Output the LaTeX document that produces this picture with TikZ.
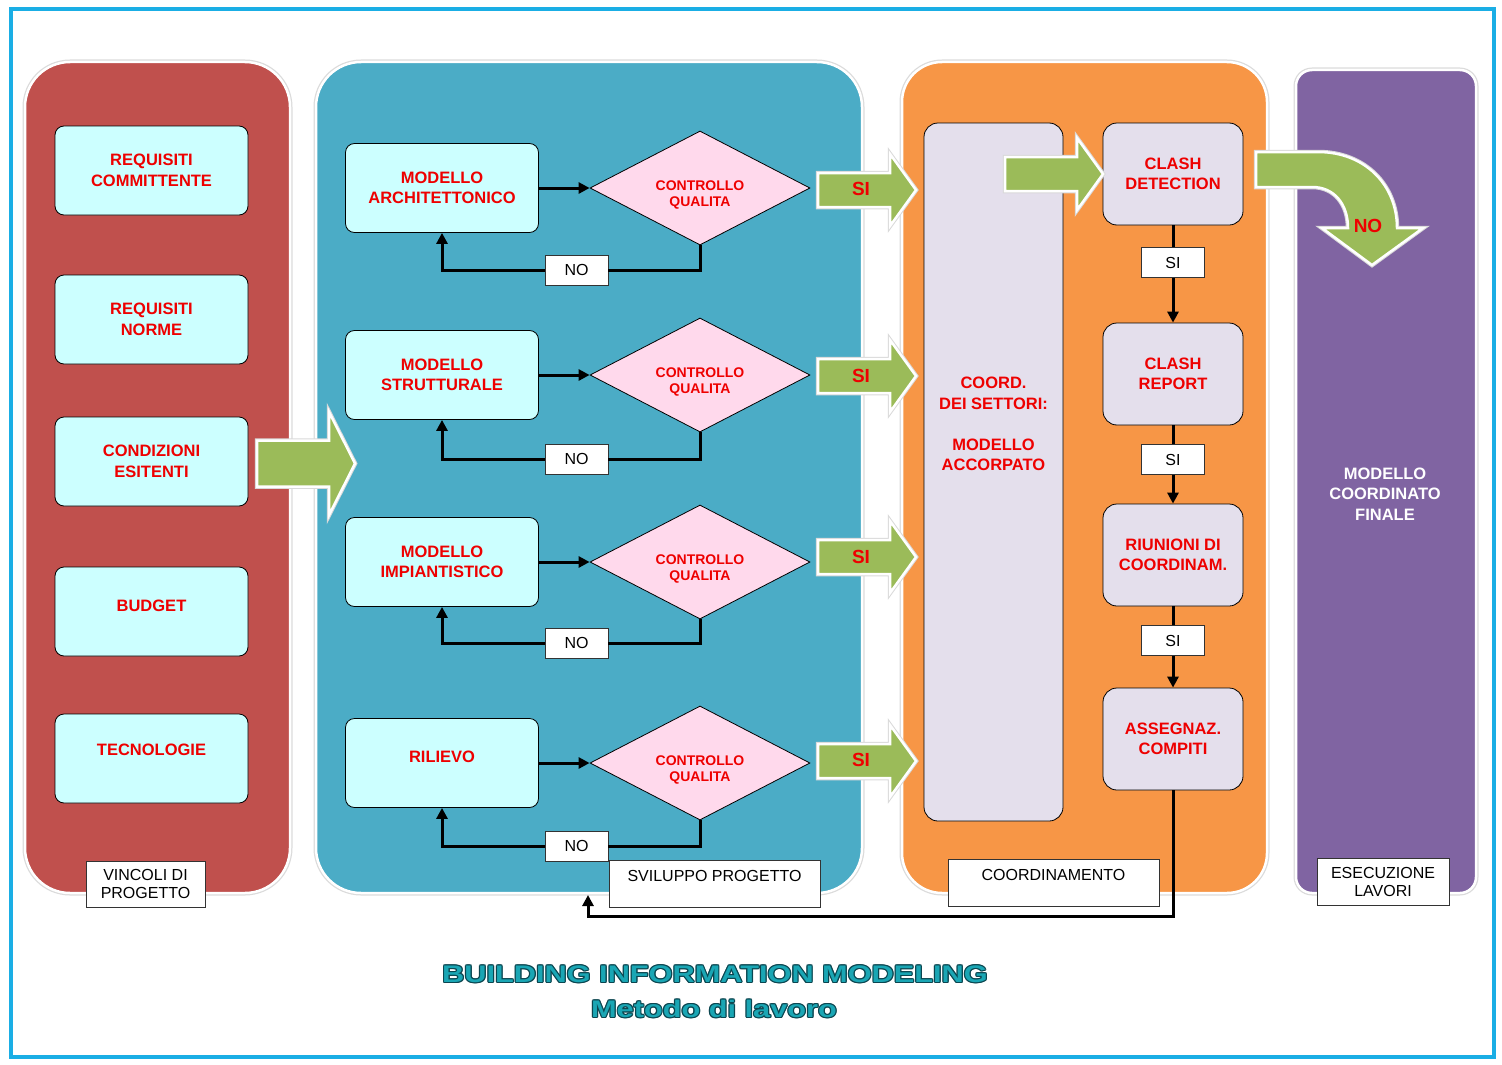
\documentclass[tikz,border=0pt]{standalone}
\usepackage{fontspec}
\usepackage{graphicx}
\setmainfont{Liberation Sans}
\usetikzlibrary{arrows.meta, shapes.geometric, positioning}

\definecolor{vincolired}{HTML}{C0504D}
\definecolor{svilblue}{HTML}{4BACC6}
\definecolor{coordorange}{HTML}{F79646}
\definecolor{esecpurple}{HTML}{8064A2}
\definecolor{reqcyan}{HTML}{CCFFFF}
\definecolor{checkpink}{HTML}{FFD9EC}
\definecolor{coordlav}{HTML}{E4DFEC}
\definecolor{arrowgreen}{HTML}{9BBB59}
\definecolor{labelred}{HTML}{EE0000}
\definecolor{framecyan}{HTML}{1AAEE5}
\definecolor{titlefill}{HTML}{1AA6B4}
\definecolor{titleedge}{HTML}{0B4650}

\begin{document}
\begin{tikzpicture}[x=1pt, y=-1pt,
  panel/.style={rounded corners=45pt, draw=white, line width=2.5pt,
    preaction={draw=black!14, line width=5pt}, inner sep=0,
    minimum width=#1, minimum height=831pt},
  boxtext/.style={align=center, text=labelred,
    font=\bfseries\fontsize{16.5}{20.5}\selectfont},
  reqbox/.style={boxtext, draw=black, line width=0.8pt, fill=reqcyan,
    rounded corners=9pt, minimum width=193pt, minimum height=89pt, inner sep=0},
  lavbox/.style={reqbox, fill=coordlav, rounded corners=14pt,
    minimum width=140pt, minimum height=102pt},
  qtext/.style={align=center, text=labelred, inner sep=0,
    font=\bfseries\fontsize{14}{16}\selectfont},
  qcheck/.style={diamond, aspect=2, draw=black, line width=0.8pt, fill=checkpink,
    minimum width=220pt, minimum height=114pt, inner sep=0,
    label={[qtext, yshift=-7pt]center:{CONTROLLO\\QUALITA}}},
  notag/.style={draw=black!80, fill=white, line width=0.8pt, inner sep=0,
    minimum width=63pt, minimum height=30pt, font=\fontsize{16}{18}\selectfont},
  paneltag/.style={draw=black!80, fill=white, line width=0.8pt, inner sep=0,
    align=center, font=\fontsize{16}{18.5}\selectfont},
  wire/.style={line width=3pt},
  flow/.style={wire, -{Triangle[length=11pt, width=11pt]}},
  greenarrow/.style={fill=arrowgreen, draw=white, line width=2.5pt,
    preaction={draw=black!15, line width=4.5pt}},
  sitext/.style={text=labelred, font=\bfseries\fontsize{19}{21}\selectfont},
  bimtitle/.style={font=\bfseries\fontsize{24}{28}\selectfont},
  siarrow/.pic={\path[greenarrow] (0,-17) -- (72,-17) -- (72,-36) -- (98,0)
    -- (72,36) -- (72,17) -- (0,17) -- cycle;}]

  % cornice
  \useasboundingbox (0,0) rectangle (1502,1065);
  \draw[framecyan, line width=3.5pt] (11,9) rectangle (1494,1057);

  % pannelli
  \node[panel=265pt, fill=vincolired] (vincoli) at (157.5,477.5) {};
  \node[panel=546pt, fill=svilblue] (sviluppo) at (589,477.5) {};
  \node[panel=365pt, fill=coordorange, rounded corners=40pt] (coordin) at (1084.5,477.5) {};
  \node[panel=180pt, fill=esecpurple, rounded corners=16pt,
    minimum height=823pt] (esecuz) at (1386,481.5) {};

  % vincoli di progetto
  \node[reqbox] (reqcomm) at (151.5,170.5) {REQUISITI\\COMMITTENTE};
  \node[reqbox] (reqnorme) at (151.5,319.5) {REQUISITI\\NORME};
  \node[reqbox] (condiz) at (151.5,461.5) {CONDIZIONI\\ESITENTI};
  \node[reqbox, text depth=12pt] (budget) at (151.5,611.5) {BUDGET};
  \node[reqbox, text depth=17pt] (tecno) at (151.5,758.5) {TECNOLOGIE};
  \path[greenarrow] (257,440.5) -- (329,440.5) -- (329,412) -- (355,463.5)
    -- (329,515) -- (329,486.5) -- (257,486.5) -- cycle;

  % sviluppo progetto: modelli e controlli
  \node[reqbox] (marchit) at (442,188) {MODELLO\\ARCHITETTONICO};
  \node[reqbox] (mstrut) at (442,375) {MODELLO\\STRUTTURALE};
  \node[reqbox] (mimpian) at (442,562) {MODELLO\\IMPIANTISTICO};
  \node[reqbox, text depth=12pt] (rilievo) at (442,763) {RILIEVO};
  \node[qcheck] (cq1) at (700,188) {};
  \node[qcheck] (cq2) at (700,375) {};
  \node[qcheck] (cq3) at (700,562) {};
  \node[qcheck] (cq4) at (700,763) {};
  \node[notag] (no1) at (576.5,270) {NO};
  \node[notag] (no2) at (576.5,459) {NO};
  \node[notag] (no3) at (576.5,643) {NO};
  \node[notag] (no4) at (576.5,846) {NO};
  \draw[flow] (marchit) -- (cq1);
  \draw[flow] (mstrut) -- (cq2);
  \draw[flow] (mimpian) -- (cq3);
  \draw[flow] (rilievo) -- (cq4);
  \draw[wire] (cq1.south) |- (no1.east);
  \draw[flow] (no1.west) -| (marchit.south);
  \draw[wire] (cq2.south) |- (no2.east);
  \draw[flow] (no2.west) -| (mstrut.south);
  \draw[wire] (cq3.south) |- (no3.east);
  \draw[flow] (no3.west) -| (mimpian.south);
  \draw[wire] (cq4.south) |- (no4.east);
  \draw[flow] (no4.west) -| (rilievo.south);

  % uscite SI verso il coordinamento
  \pic at (818,190) {siarrow};
  \pic at (818,376) {siarrow};
  \pic at (818,557) {siarrow};
  \pic at (818,761) {siarrow};
  \node[sitext] (si-arch) at (861,189) {SI};
  \node[sitext] (si-strut) at (861,376) {SI};
  \node[sitext] (si-imp) at (861,557) {SI};
  \node[sitext] (si-ril) at (861,760) {SI};

  % coordinamento
  \node[lavbox, minimum width=139pt, minimum height=698pt] (accorp) at (993.5,472) {};
  \node[boxtext] (accorp-txt) at (993.5,424)
    {COORD.\\DEI SETTORI:\\[20.5pt]MODELLO\\ACCORPATO};
  \node[lavbox] (clash) at (1173,174) {CLASH\\DETECTION};
  \node[lavbox] (report) at (1173,374) {CLASH\\REPORT};
  \node[lavbox] (riunioni) at (1173,555) {RIUNIONI DI\\COORDINAM.};
  \node[lavbox] (assegn) at (1173,739) {ASSEGNAZ.\\COMPITI};
  \pic at (1005,174) {siarrow};
  \node[notag] (si1) at (1173,262.5) {SI};
  \node[notag] (si2) at (1173,459.5) {SI};
  \node[notag] (si3) at (1173,640.5) {SI};
  \draw[wire] (clash.south) -- (si1.north);
  \draw[flow] (si1.south) -- (report.north);
  \draw[wire] (report.south) -- (si2.north);
  \draw[flow] (si2.south) -- (riunioni.north);
  \draw[wire] (riunioni.south) -- (si3.north);
  \draw[flow] (si3.south) -- (assegn.north);

  % NO verso esecuzione
  \path[greenarrow] (1256,152) -- (1318,152) .. controls (1365,152) and (1397,185)
    .. (1397,228) -- (1423,228) -- (1372,265) -- (1322,228) -- (1348,228)
    .. controls (1348,205) and (1335,187) .. (1312,187) -- (1256,187) -- cycle;
  \node[sitext] (no-esec) at (1368,226) {NO};
  \node[text=white, align=center, font=\bfseries\fontsize{16.5}{20.5}\selectfont]
    (finale) at (1385,494) {MODELLO\\COORDINATO\\FINALE};

  % etichette dei pannelli
  \node[paneltag, minimum width=119pt, minimum height=46pt] (tvinc) at (145.5,884)
    {VINCOLI DI\\PROGETTO};
  \node[paneltag, minimum width=211pt, minimum height=47pt, text depth=15pt]
    (tsvil) at (714.5,883.5) {SVILUPPO PROGETTO};
  \node[paneltag, minimum width=211pt, minimum height=47pt, text depth=15pt]
    (tcoord) at (1053.5,882.5) {COORDINAMENTO};
  \node[paneltag, minimum width=132pt, minimum height=47pt] (tesec) at (1383,882)
    {ESECUZIONE\\LAVORI};

  % ritorno allo sviluppo
  \coordinate (fbend) at (588,895);
  \draw[flow] (assegn.south) -- ++(0,126) -| (fbend);

  % titolo
  \foreach \dx/\dy [count=\k] in {-1.2/0, 1.2/0, 0/-1.2, 0/1.2,
      -0.85/-0.85, 0.85/-0.85, -0.85/0.85, 0.85/0.85} {
    \node[bimtitle, text=titleedge] (bimedge\k) at (715+\dx,974+\dy)
      {\scalebox{1.28}[1]{BUILDING INFORMATION MODELING}};
    \node[bimtitle, text=titleedge] (metedge\k) at (714+\dx,1009+\dy)
      {\scalebox{1.28}[1]{Metodo di lavoro}};
  }
  \node[bimtitle, text=titlefill] (bim) at (715,974)
    {\scalebox{1.28}[1]{BUILDING INFORMATION MODELING}};
  \node[bimtitle, text=titlefill] (metodo) at (714,1009)
    {\scalebox{1.28}[1]{Metodo di lavoro}};
\end{tikzpicture}
\end{document}
